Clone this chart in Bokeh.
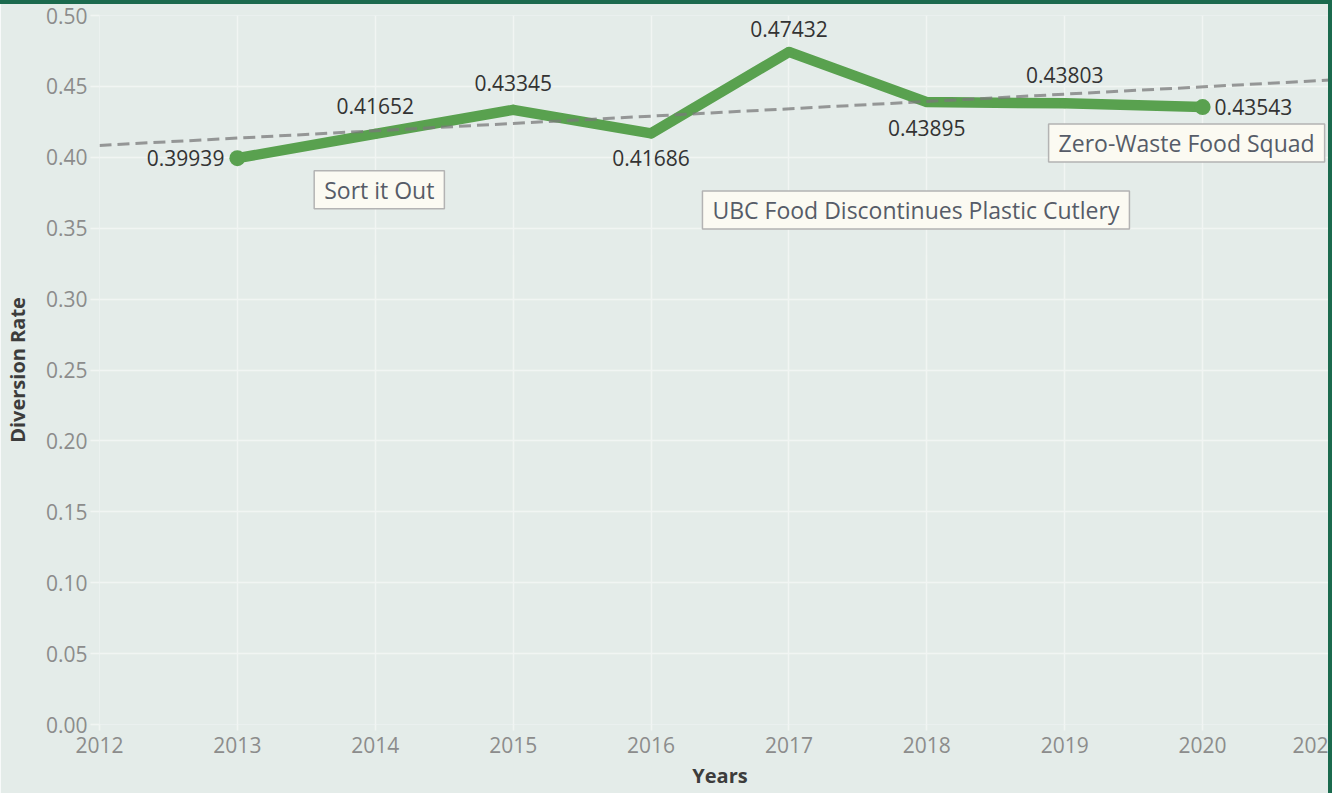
import numpy as np
from bokeh.plotting import figure
from bokeh.models import ColumnDataSource, FixedTicker, NumeralTickFormatter, Range1d, InlineStyleSheet
from bokeh.core.properties import value
from bokeh.embed import file_html
from bokeh.resources import INLINE

# ---- data ----
years = [2013, 2014, 2015, 2016, 2017, 2018, 2019, 2020]
diversion_rate = [0.39939, 0.41652, 0.43345, 0.41686, 0.47432, 0.43895, 0.43803, 0.43543]
x_ticks = [2012, 2013, 2014, 2015, 2016, 2017, 2018, 2019, 2020, 2021]
y_ticks = [0.00, 0.05, 0.10, 0.15, 0.20, 0.25, 0.30, 0.35, 0.40, 0.45, 0.50]
annotation_texts = ["Sort it Out", "UBC Food Discontinues Plastic Cutlery", "Zero-Waste Food Squad"]
annotation_years = [2014, 2017, 2020]

# ---- placement / style (not data) ----
label_dx = [-13, 0, 0, 0, 0, 0, 0, 12]
label_dy = [0, -28, -27, 25, -23, 26, -28, 0]
label_align = ["right", "center", "center", "center", "center", "center", "center", "left"]
ann_dx = [4, 127, -16]
ann_dy = [56, 158, 36]

BG = "#e4ece9"
GRID = "#f1f5f3"
GREEN = "#59a14f"
BORDER = "#1b6a4e"
FONT = "Open Sans"

p = figure(width=1340, height=793, output_backend="svg", toolbar_location=None,
           x_range=Range1d(x_ticks[0], x_ticks[-1]), y_range=Range1d(y_ticks[0], y_ticks[-1]),
           min_border_left=97, min_border_right=0, min_border_top=15, min_border_bottom=69)
p.background_fill_color = BG
p.border_fill_color = BG
p.outline_line_color = None

p.xgrid.grid_line_color = GRID
p.ygrid.grid_line_color = GRID
p.xgrid.grid_line_width = 1.5
p.ygrid.grid_line_width = 1.5

p.xaxis.ticker = FixedTicker(ticks=x_ticks)
p.yaxis.ticker = FixedTicker(ticks=y_ticks)
p.yaxis.formatter = NumeralTickFormatter(format="0.00")
for ax in (p.xaxis, p.yaxis):
    ax.axis_line_color = None
    ax.major_tick_line_color = GRID
    ax.major_tick_line_width = 1.5
    ax.minor_tick_line_color = None
    ax.major_tick_in = 0
    ax.major_label_text_font = FONT
    ax.major_label_text_font_size = "21px"
    ax.major_label_text_color = "#8c8c8c"
    ax.axis_label_text_font = FONT
    ax.axis_label_text_font_size = "20px"
    ax.axis_label_text_font_style = "bold"
    ax.axis_label_text_color = "#3c3c3c"
p.xaxis.major_tick_out = 6
p.yaxis.major_tick_out = 9
p.xaxis.major_label_standoff = 6
p.yaxis.major_label_standoff = 3
p.xaxis.axis_label = "Years"
p.yaxis.axis_label = "Diversion Rate"
p.xaxis.axis_label_standoff = 6
p.yaxis.axis_label_standoff = 12

src = ColumnDataSource(dict(
    x=years, y=diversion_rate,
    label=[f"{v:.5f}" for v in diversion_rate],
    dx=label_dx, dy=label_dy, align=label_align,
))

p.line("x", "y", source=src, line_color=GREEN, line_width=10.5, line_join="round")
p.scatter("x", "y", source=src, size=10, fill_color=GREEN, line_color=None)
p.scatter(x=[years[0], years[-1]], y=[diversion_rate[0], diversion_rate[-1]], size=16,
          fill_color=GREEN, line_color=None)

# linear trend line fitted to data
slope, intercept = np.polyfit(years, diversion_rate, 1)
tx = [x_ticks[0], x_ticks[-1]]
p.line(tx, [slope * t + intercept for t in tx], line_color="#7a7a7a", line_alpha=0.75,
       line_width=3, line_dash="12 6")

p.text("x", "y", text="label", source=src, x_offset="dx", y_offset="dy", text_align="align",
       text_baseline="middle", text_font=value(FONT), text_font_size="21px", text_color="#333333")

ann_src = ColumnDataSource(dict(
    x=annotation_years,
    y=[diversion_rate[years.index(yr)] for yr in annotation_years],
    text=annotation_texts, dx=ann_dx, dy=ann_dy,
))
p.text("x", "y", text="text", source=ann_src, x_offset="dx", y_offset="dy", text_align="center",
       text_baseline="middle", text_font=value(FONT), text_font_size="23px", text_color="#565c68",
       background_fill_color="#fbfaf2", border_line_color="#b3b3b3", border_line_width=1.5,
       padding=(10, 3))

# dashboard frame (decoration, drawn with CSS over the canvas)
p.stylesheets = [InlineStyleSheet(css="""
:host { position: relative; }
:host::before { content: ""; position: absolute; left: 0; top: 0; width: 1332px; height: 4px;
  background: #1b6a4e; z-index: 100; pointer-events: none; }
:host::after { content: ""; position: absolute; left: 1328px; top: 0; width: 12px; height: 793px;
  background: linear-gradient(to right, #1b6a4e 0px, #1b6a4e 4px, #ffffff 4px, #ffffff 12px);
  z-index: 100; pointer-events: none; }
""")]

open("out.html", "w").write(file_html(p, INLINE))
